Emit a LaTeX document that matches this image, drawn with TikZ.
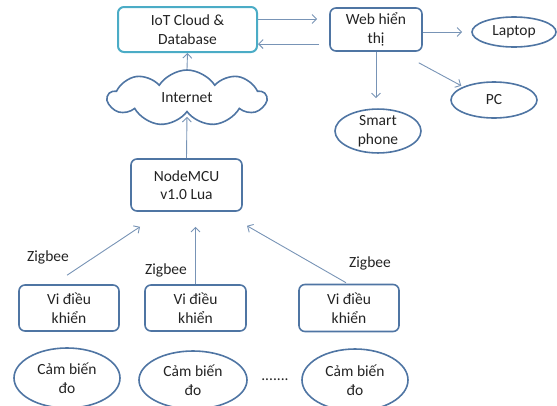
\documentclass[tikz,border=0pt]{standalone}
\usepackage{fontspec}
\setmainfont{Carlito}
\usetikzlibrary{shapes.geometric,shapes.symbols,arrows.meta}
\definecolor{boxline}{RGB}{79,117,163}
\definecolor{cloudline}{RGB}{75,172,198}
\definecolor{arrline}{RGB}{120,148,182}
\definecolor{txt}{RGB}{35,35,35}
\tikzset{
  box/.style={draw=boxline, line width=1.6pt, rounded corners=6pt, align=center, text=txt, inner sep=0pt},
  oval/.style={ellipse, draw=boxline, line width=1.6pt, align=center, text=txt, inner sep=0pt},
  arr/.style={draw=arrline, line width=0.9pt, -{Straight Barb[length=4.5pt,width=9pt]}},
  lbl/.style={text=txt}
}
\begin{document}
\begin{tikzpicture}[x=1pt,y=-1pt,font=\fontsize{15.5}{18.5}\selectfont]
    \useasboundingbox (0,0) rectangle (557,405);
    % cloud and web
    \node[box, draw=cloudline, line width=2pt, minimum width=139pt, minimum height=45pt] (iot) at (187.5,29.5) {IoT Cloud \&\\Database};
    \node[box, minimum width=92pt, minimum height=43pt] (web) at (376,29.5) {Web hiển\\thị};
    \node[oval, minimum width=84pt, minimum height=30pt] (laptop) at (514,32) {Laptop};
    \node[oval, minimum width=86pt, minimum height=36pt] (pc) at (494,100) {PC};
    \node[oval, minimum width=86pt, minimum height=42pt] (phone) at (378,131) {Smart\\phone};
    \draw[arr, shorten >=12pt] ([yshift=10.5pt]iot.east) -- ([yshift=10.5pt]web.west);
    \draw[arr, shorten <=10pt] ([yshift=-14.5pt]web.west) -- ([yshift=-14.5pt]iot.east);
    \draw[arr, shorten >=9pt] (web.east |- laptop.west) -- (laptop.west);
    \draw[arr, shorten >=2pt] ([xshift=-4pt,yshift=-11pt]web.south east) -- (pc.north west);
    \draw[arr, shorten >=10pt] (web.south) -- (web.south |- phone.north);

    % internet and gateway
    \node[cloud, draw=boxline, line width=1.6pt, cloud puffs=9, cloud puff arc=115, aspect=3,
          minimum width=158pt, minimum height=56pt, inner sep=0pt, text=txt] (internet) at (187,98) {Internet};
    \node[box, minimum width=111pt, minimum height=52pt] (mcu) at (186.5,185) {NodeMCU\\v1.0 Lua};
    \coordinate (mcuin) at ([yshift=-15pt]mcu.south);
    \draw[arr] (internet.north) -- (iot.south);
    \draw[arr, shorten >=4pt] (mcu.north) -- (internet.south);

    % nodes below
    \node[box, minimum width=100pt, minimum height=46pt] (vi1) at (69,308) {Vi điều\\khiển};
    \node[box, minimum width=101pt, minimum height=46pt] (vi2) at (195.5,308) {Vi điều\\khiển};
    \node[box, minimum width=100pt, minimum height=47pt] (vi3) at (349,308) {Vi điều\\khiển};
    \node[lbl] (zb1) at (48,257) {Zigbee};
    \node[lbl] (zb2) at (166,270) {Zigbee};
    \node[lbl] (zb3) at (370,263) {Zigbee};
    \draw[arr] ([xshift=-2pt,yshift=9pt]vi1.north) -- ([xshift=-46.5pt]mcuin);
    \draw[arr] (vi2.north) -- (vi2.north |- mcuin);
    \draw[arr] ([xshift=-3pt,yshift=1pt]vi3.north) -- ([xshift=60.5pt,yshift=1pt]mcuin);

    % sensors
    \node[oval, minimum width=106pt, minimum height=60pt] (cb1) at (67,378) {Cảm biến\\đo};
    \node[oval, minimum width=108pt, minimum height=58pt] (cb2) at (193,380) {Cảm biến\\đo};
    \node[oval, minimum width=106pt, minimum height=62pt] (cb3) at (355,380) {Cảm biến\\đo};
    \node[lbl] (dots) at (275,380) {.......};
\end{tikzpicture}
\end{document}
